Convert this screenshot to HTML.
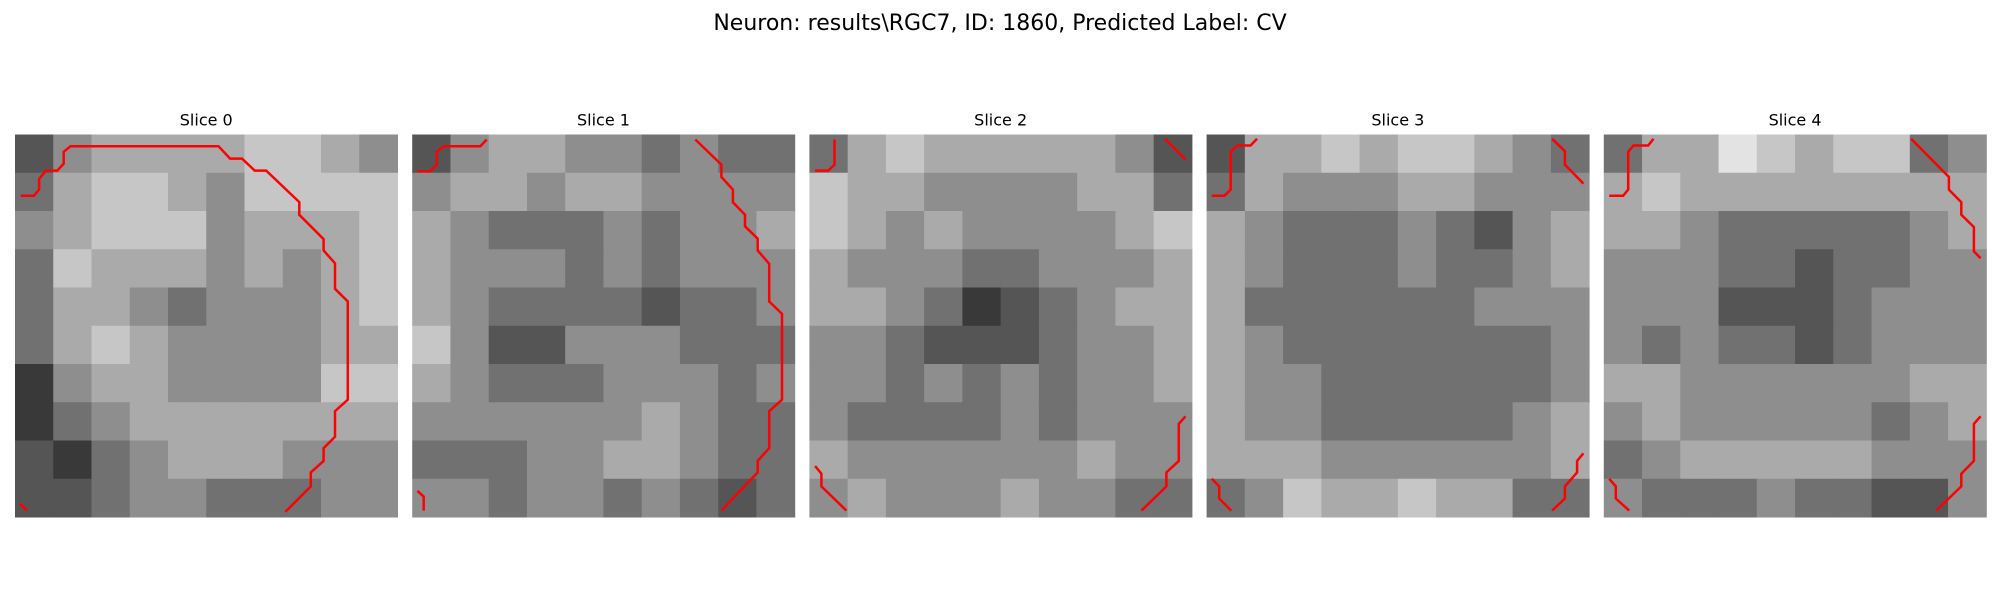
<!DOCTYPE html>
<html><head><meta charset="utf-8"><style>
body{margin:0;background:#fff;width:2000px;height:600px;overflow:hidden;font-family:"Liberation Sans","DejaVu Sans",sans-serif}
</style></head><body>
<svg id="fig" width="2000" height="600" xmlns="http://www.w3.org/2000/svg">
<rect width="2000" height="600" fill="#fff"/>
<text x="1000" y="30" text-anchor="middle" font-size="22" fill="#000" font-family="DejaVu Sans, Liberation Sans, sans-serif">Neuron: results\RGC7, ID: 1860, Predicted Label: CV</text>
</svg>
<script>
const sliceTitles=["Slice 0","Slice 1","Slice 2","Slice 3","Slice 4"];
// coarse 10x10 intensity grids (0=black, 9=white)
const slice0=[[3,5,6,6,6,6,7,7,6,5],[4,6,7,7,6,5,7,7,7,7],[5,6,7,7,7,5,6,6,6,7],[4,7,6,6,6,5,6,5,6,7],[4,6,6,5,4,5,5,5,6,7],[4,6,7,6,5,5,5,5,6,6],[2,5,6,6,5,5,5,5,7,7],[2,4,5,6,6,6,6,6,6,6],[3,2,4,5,6,6,6,5,5,5],[3,3,4,5,5,4,4,4,5,5]];
const slice1=[[3,5,6,6,5,5,4,5,4,4],[5,6,6,5,6,6,5,5,5,5],[6,5,4,4,4,5,4,5,5,6],[6,5,5,5,4,5,4,5,5,5],[6,5,4,4,4,4,3,4,4,5],[7,5,3,3,5,5,5,4,4,4],[6,5,4,4,4,5,5,5,4,5],[5,5,5,5,5,5,6,5,4,4],[4,4,4,5,5,6,6,5,4,4],[5,5,4,5,5,4,5,4,3,4]];
const slice2=[[4,6,7,6,6,6,6,6,5,3],[7,6,6,5,5,5,5,6,6,4],[7,6,5,6,5,5,5,5,6,7],[6,5,5,5,4,4,5,5,5,6],[6,6,5,4,2,3,4,5,6,6],[5,5,4,3,3,3,4,5,5,6],[5,5,4,5,4,5,4,5,5,6],[5,4,4,4,4,5,4,5,5,5],[6,5,5,5,5,5,5,6,5,5],[5,6,5,5,5,6,5,5,4,4]];
const slice3=[[3,6,6,7,6,7,7,6,5,4],[4,6,5,5,5,6,6,5,5,5],[6,5,4,4,4,5,4,3,5,6],[6,5,4,4,4,5,4,4,5,6],[6,4,4,4,4,4,4,5,5,5],[6,5,4,4,4,4,4,4,4,5],[6,5,5,4,4,4,4,4,4,5],[6,5,5,4,4,4,4,4,5,6],[6,6,6,5,5,5,5,5,5,6],[4,5,7,6,6,7,6,6,4,4]];
const slice4=[[4,6,6,8,7,6,7,7,4,5],[6,7,6,6,6,6,6,6,6,6],[6,6,5,4,4,4,4,4,5,6],[5,5,5,4,4,3,4,4,5,5],[5,5,5,3,3,3,4,5,5,5],[5,4,5,4,4,3,4,5,5,5],[6,6,5,5,5,5,5,5,6,6],[5,6,5,5,5,5,5,4,5,6],[4,5,6,6,6,6,6,5,5,5],[5,4,4,4,5,4,4,3,3,5]];
const grids=[slice0,slice1,slice2,slice3,slice4];
// contour polylines in image-cell coordinates (0..30)
const contours0=[[[0.45,4.8],[1.48,4.8],[1.89,4.32],[1.89,3.48],[2.42,2.83],[3.32,2.83],[3.82,2.28],[3.82,1.36],[4.35,0.92],[15.96,0.92],[16.87,1.89],[17.8,1.89],[18.8,2.83],[19.7,2.83],[22.3,5.3],[22.3,6.3],[24.2,8.2],[24.2,9.1],[25.1,10.1],[25.1,12.1],[26.1,13.1],[26.1,20.8],[25.1,21.7],[25.1,23.7],[24.2,24.6],[24.2,25.6],[23.2,26.5],[23.2,27.6],[21.2,29.6]],[[0.37,28.95],[0.94,29.5]]];
const contours1=[[[0.41,2.88],[1.4,2.88],[1.93,2.36],[1.93,1.36],[2.47,0.92],[5.35,0.92],[5.84,0.39]],[[22.2,0.39],[24.25,2.36],[24.25,3.33],[25.15,4.32],[25.15,5.32],[26.1,6.29],[26.1,7.2],[27.1,8.17],[27.1,9.1],[28,10.14],[28,13.1],[29,14.07],[29,20.8],[28,21.7],[28,24.6],[27.1,25.6],[27.1,26.5],[24.25,29.5]],[[0.41,27.95],[0.9,28.4],[0.9,29.5]]];
const contours2=[[[1.97,0.39],[1.97,2.36],[1.48,2.83],[0.45,2.83]],[[27.9,0.34],[29.5,1.96]],[[0.45,26.0],[0.94,26.6],[0.94,27.6],[2.9,29.5]],[[29.5,22.1],[28.97,22.7],[28.97,25.6],[28,26.5],[28,27.6],[26.05,29.5]]];
const contours3=[[[3.95,0.34],[3.45,0.86],[2.42,0.86],[1.89,1.36],[1.89,4.32],[1.4,4.8],[0.41,4.8]],[[27.1,0.34],[28.1,1.31],[28.1,2.36],[29.55,3.85]],[[0.41,27.0],[0.99,27.6],[0.99,28.55],[1.93,29.5]],[[29.55,25.0],[29.06,25.6],[29.06,26.5],[28.1,27.6],[28.1,28.55],[27.1,29.5]]];
const contours4=[[[3.9,0.34],[3.48,0.86],[2.33,0.86],[1.91,1.36],[1.91,4.32],[1.52,4.8],[0.42,4.8]],[[24.1,0.34],[27.07,3.33],[27.07,4.32],[28.04,5.32],[28.04,6.29],[29.03,7.26],[29.03,9.17],[29.55,9.7]],[[0.42,27.0],[0.94,27.6],[0.94,28.55],[1.99,29.5]],[[29.55,22.1],[29.03,22.7],[29.03,25.6],[28.04,26.6],[28.04,27.6],[26.07,29.5]]];
const contours=[contours0,contours1,contours2,contours3,contours4];

const NS="http://www.w3.org/2000/svg";
const svg=document.getElementById('fig');
const P0=15, PSTEP=397.2, PTOP=134.5, PSIZE=382.5, N=30;
function sx(i,v){return P0+i*PSTEP+v/N*PSIZE;}
function sy(v){return PTOP+v/N*PSIZE;}
grids.forEach((g,i)=>{
  const grp=document.createElementNS(NS,'g');
  
  
  svg.appendChild(grp);
  const t=document.createElementNS(NS,'text');
  
  
  t.setAttribute('x',sx(i,15));t.setAttribute('y',PTOP-9);
  t.setAttribute('text-anchor','middle');t.setAttribute('font-size','16');
  t.setAttribute('font-family','DejaVu Sans, Liberation Sans, sans-serif');
  t.textContent=sliceTitles[i];grp.appendChild(t);
  const rows=g.length, cols=g[0].length;
  g.forEach((row,r)=>row.forEach((v,c)=>{
    const rc=document.createElementNS(NS,'rect');
    
    
    const x0=sx(i,c*N/cols), x1=sx(i,(c+1)*N/cols), y0=sy(r*N/rows), y1=sy((r+1)*N/rows);
    rc.setAttribute('x',x0);rc.setAttribute('y',y0);
    rc.setAttribute('width',x1-x0+0.5);rc.setAttribute('height',y1-y0+0.5);
    const gv=Math.round(v/9*255);
    rc.setAttribute('fill','rgb('+gv+','+gv+','+gv+')');
    grp.appendChild(rc);
  }));
  contours[i].forEach(line=>{
    const pl=document.createElementNS(NS,'polyline');
    
    
    pl.setAttribute('points',line.map(p=>sx(i,p[0]).toFixed(1)+','+sy(p[1]).toFixed(1)).join(' '));
    pl.setAttribute('fill','none');pl.setAttribute('stroke','#ff0000');
    pl.setAttribute('stroke-width','2.5');
    grp.appendChild(pl);
  });
});
</script>
</body></html>
